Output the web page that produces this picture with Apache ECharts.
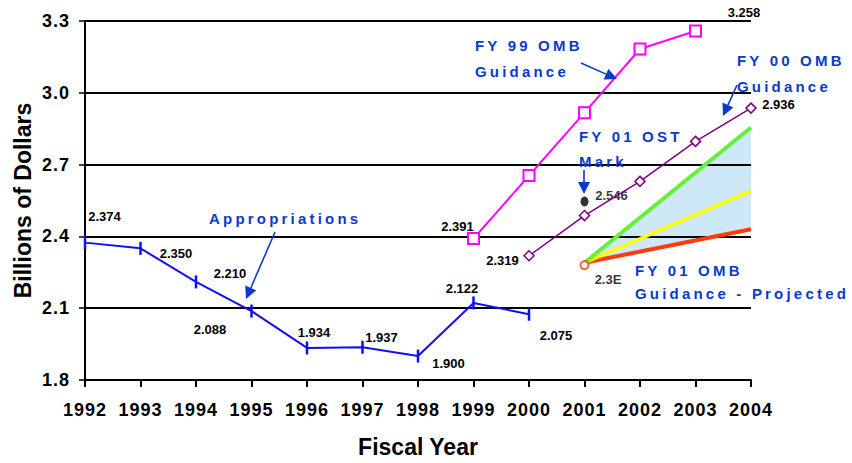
<!DOCTYPE html>
<html><head><meta charset="utf-8">
<script src="https://cdn.jsdelivr.net/npm/echarts@6/dist/echarts.min.js"></script>
<style>html,body{margin:0;padding:0;background:#fff}#chart{width:852px;height:463px}</style>
</head><body><div id="chart"></div>
<script>
// ---- data ----
const approYears = [1992, 1993, 1994, 1995, 1996, 1997, 1998, 1999, 2000];
const appropriations = [2.374, 2.350, 2.210, 2.088, 1.934, 1.937, 1.900, 2.122, 2.075];
const fy99Years = [1999, 2000, 2001, 2002, 2003];
const fy99Guidance = [2.391, 2.654, 2.917, 3.183, 3.258];
const fy00Years = [2000, 2001, 2002, 2003, 2004];
const fy00Guidance = [2.319, 2.487, 2.630, 2.797, 2.936];
const ostYears = [2001];
const ostMark = [2.546];
const projStartYears = [2001];
const projStart = [2.28];
const projStartLabel = ['2.3E'];
const projYears = [2001, 2004];
const projHigh = [2.29, 2.855];
const projMid = [2.29, 2.59];
const projLow = [2.29, 2.43];
const yMin = 1.8, yMax = 3.3, yStep = 0.3;
const xMin = 1992, xMax = 2004;
const annotationTexts = ['Appropriations', 'FY 99 OMB', 'Guidance', 'FY 00 OMB', 'FY 01 OST', 'Mark', 'FY 01 OMB', 'Guidance - Projected'];

// ---- layout / style ----
const BLUE = '#0a3acc';
const labelFont = {color: '#000', fontFamily: 'Liberation Sans, Arial, sans-serif', fontWeight: 'bold', fontSize: 13};
const approOffsets = [[19.5,-26],[35.5,5],[34,-8.6],[-41.5,18],[7,-15],[19,-10],[30.5,7],[-11.5,-14],[27,21]];
function pts(xs, ys) { return xs.map((x, i) => [x, ys[i]]); }
function lbl(offset, extra) { return Object.assign({show: true, position: 'inside', offset: offset, formatter: p => p.value[1].toFixed(3)}, labelFont, extra || {}); }

const approData = approYears.map((x, i) => ({value: [x, appropriations[i]], label: lbl(approOffsets[i])}));
const fy99Data = pts(fy99Years, fy99Guidance).map((v, i, a) => {
  const d = {value: v};
  if (i === 0) d.label = lbl([-16, -12]);
  if (i === a.length - 1) d.label = lbl([48.5, -19]);
  return d;
});
const fy00Data = pts(fy00Years, fy00Guidance).map((v, i, a) => {
  const d = {value: v};
  if (i === 0) d.label = lbl([-26.5, 5]);
  if (i === a.length - 1) d.label = lbl([27.5, -4]);
  return d;
});
const ostData = pts(ostYears, ostMark).map(v => ({value: v, label: lbl([27, -6], {backgroundColor: '#fff', padding: [2, 3]})}));
const startData = pts(projStartYears, projStart).map((v, i) => ({value: v, label: lbl([23.5, 14], {formatter: projStartLabel[i]})}));

const annFont = 'bold 15px "Liberation Sans", Arial, sans-serif';
function txt(s, x, y) { return {type: 'text', x: x, y: y, z: 100, style: {text: s, fill: BLUE, font: annFont, verticalAlign: 'middle', align: 'left'}}; }
function arrow(x1, y1, x2, y2) {
  const L = 12, W = 6;
  const dx = x2 - x1, dy = y2 - y1, len = Math.hypot(dx, dy);
  const ux = dx / len, uy = dy / len;
  const bx = x2 - ux * L, by = y2 - uy * L;
  return [
    {type: 'line', z: 100, shape: {x1: x1, y1: y1, x2: bx, y2: by}, style: {stroke: BLUE, lineWidth: 1.6}},
    {type: 'polygon', z: 100, shape: {points: [[x2, y2], [bx - uy * W, by + ux * W], [bx + uy * W, by - ux * W]]}, style: {fill: BLUE}}
  ];
}

const graphics = [
  txt(annotationTexts[0], 209, 218),
  txt(annotationTexts[1], 475, 45), txt(annotationTexts[2], 475, 71),
  txt(annotationTexts[3], 737, 60), txt(annotationTexts[2], 737, 86),
  txt(annotationTexts[4], 579, 136), txt(annotationTexts[5], 579, 161),
  txt(annotationTexts[6], 635, 270), txt(annotationTexts[7], 635, 293),
].concat(arrow(275, 232, 246, 299), arrow(581, 63, 617, 79), arrow(737, 85, 723, 116), arrow(584, 170, 584, 194));

const bandPoints = projYears.map((x, i) => [x, projLow[i], projHigh[i]]);

const chart = echarts.init(document.getElementById('chart'), null, {renderer: 'svg'});
chart.setOption({
  animation: false,
  backgroundColor: '#fff',
  grid: {left: 85, right: 101, top: 21, bottom: 82, containLabel: false},
  xAxis: {
    type: 'value', min: xMin, max: xMax, interval: 1, z: 1,
    name: 'Fiscal Year', nameLocation: 'middle', nameGap: 55,
    nameTextStyle: {fontFamily: 'Liberation Sans, Arial', fontWeight: 'bold', fontSize: 23, color: '#000'},
    axisLine: {lineStyle: {color: '#000', width: 2}},
    axisTick: {show: true, length: 7, lineStyle: {color: '#000', width: 2}},
    axisLabel: {margin: 21, color: '#000', fontFamily: 'Liberation Sans, Arial', fontWeight: 'bold', fontSize: 18, formatter: v => String(v)},
    splitLine: {show: false}
  },
  yAxis: {
    type: 'value', min: yMin, max: yMax, interval: yStep, z: 1,
    name: 'Billions of Dollars', nameLocation: 'middle', nameGap: 51, nameRotate: 90,
    nameTextStyle: {fontFamily: 'Liberation Sans, Arial', fontWeight: 'bold', fontSize: 23, color: '#000'},
    axisLine: {show: true, lineStyle: {color: '#000', width: 2}},
    axisTick: {show: true, length: 6, lineStyle: {color: '#000', width: 1.5}},
    axisLabel: {margin: 15, color: '#000', fontFamily: 'Liberation Sans, Arial', fontWeight: 'bold', fontSize: 18, formatter: v => v.toFixed(1)},
    splitLine: {show: true, lineStyle: {color: '#000', width: 2}}
  },
  series: [
    {type: 'custom', name: 'Projected range', z: 0, silent: true, data: bandPoints,
      encode: {x: 0, y: [1, 2]},
      renderItem: function (params, api) {
        if (params.dataIndex !== 0) return null;
        const lo = [], hi = [];
        bandPoints.forEach(p => { lo.push(api.coord([p[0], p[1]])); hi.push(api.coord([p[0], p[2]])); });
        return {type: 'polygon', shape: {points: lo.concat(hi.reverse())}, style: {fill: '#cde9f8'}};
      }
    },
    {type: 'line', name: 'Projected low', data: pts(projYears, projLow), symbol: 'none', lineStyle: {color: '#ff3b0a', width: 4}},
    {type: 'line', name: 'Projected mid', data: pts(projYears, projMid), symbol: 'none', lineStyle: {color: '#ffff00', width: 3.5}},
    {type: 'line', name: 'Projected high', data: pts(projYears, projHigh), symbol: 'none', lineStyle: {color: '#66f03a', width: 4}},
    {type: 'line', name: 'Appropriations', data: approData, symbol: 'rect', symbolSize: [2.5, 13], showAllSymbol: true,
      itemStyle: {color: '#1010f0'}, lineStyle: {color: '#1010f0', width: 2}},
    {type: 'line', name: 'FY 99 OMB Guidance', data: fy99Data, symbol: 'rect', symbolSize: 11,
      itemStyle: {color: '#fff', borderColor: '#ff00ff', borderWidth: 2}, lineStyle: {color: '#ff00ff', width: 2}},
    {type: 'line', name: 'FY 00 OMB Guidance', data: fy00Data, symbol: 'diamond', symbolSize: 10,
      itemStyle: {color: '#fff', borderColor: '#800080', borderWidth: 1.5}, lineStyle: {color: '#800080', width: 1.5}},
    {type: 'scatter', name: 'FY 01 OST Mark', data: ostData, symbol: 'circle', symbolSize: [8, 10], itemStyle: {color: '#000'}},
    {type: 'scatter', name: 'FY 01 OMB start', data: startData, symbol: 'circle', symbolSize: 8, z: 5,
      itemStyle: {color: '#fff', borderColor: '#ff3b0a', borderWidth: 2}}
  ],
  graphic: graphics
});

function spaceOut() {
  document.querySelectorAll('#chart svg text').forEach(t => {
    const s = t.textContent;
    if (annotationTexts.indexOf(s) >= 0) t.setAttribute('letter-spacing', '3.2px');
    else if (/^\d{4}$/.test(s) || /^\d\.\d$/.test(s)) t.setAttribute('letter-spacing', '1px');
  });
}
spaceOut();
chart.on('finished', spaceOut);
</script></body></html>
